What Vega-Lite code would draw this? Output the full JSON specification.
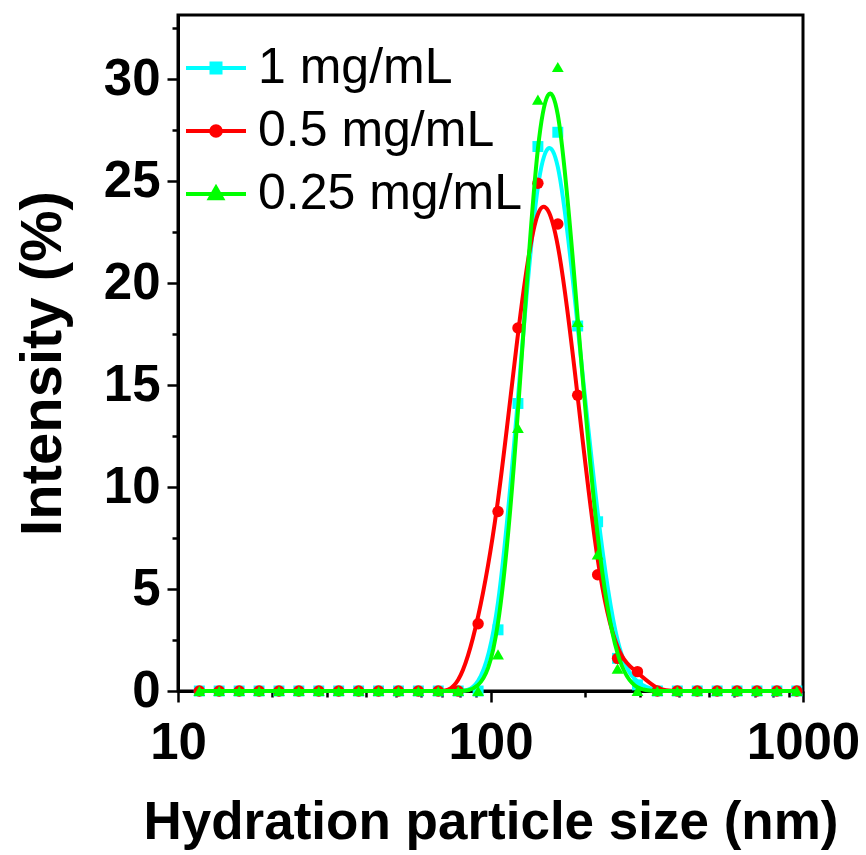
{
  "$schema": "https://vega.github.io/schema/vega-lite/v6.json",
  "width": 625,
  "height": 676,
  "autosize": {"type": "none"},
  "padding": {"left": 178, "top": 15, "right": 63, "bottom": 164},
  "background": "white",
  "config": {
    "view": {"stroke": "black", "strokeWidth": 3},
    "axis": {
      "grid": false,
      "domainColor": "black",
      "domainWidth": 3,
      "tickColor": "black",
      "tickWidth": 2.5,
      "labelFont": "Liberation Sans",
      "labelFontWeight": "bold",
      "labelFontSize": 51,
      "labelColor": "black",
      "titleFont": "Liberation Sans",
      "titleFontWeight": "bold",
      "titleFontSize": 53,
      "titleColor": "black",
      "labelOverlap": false,
      "labelFlush": false,
      "labelBound": false
    }
  },
  "datasets": {
    "dls": [
      {"series": "1 mg/mL", "size": 11.7, "intensity": 0},
      {"series": "1 mg/mL", "size": 13.54, "intensity": 0},
      {"series": "1 mg/mL", "size": 15.69, "intensity": 0},
      {"series": "1 mg/mL", "size": 18.17, "intensity": 0},
      {"series": "1 mg/mL", "size": 21.04, "intensity": 0},
      {"series": "1 mg/mL", "size": 24.36, "intensity": 0},
      {"series": "1 mg/mL", "size": 28.21, "intensity": 0},
      {"series": "1 mg/mL", "size": 32.67, "intensity": 0},
      {"series": "1 mg/mL", "size": 37.84, "intensity": 0},
      {"series": "1 mg/mL", "size": 43.82, "intensity": 0},
      {"series": "1 mg/mL", "size": 50.75, "intensity": 0},
      {"series": "1 mg/mL", "size": 58.77, "intensity": 0},
      {"series": "1 mg/mL", "size": 68.06, "intensity": 0},
      {"series": "1 mg/mL", "size": 78.82, "intensity": 0},
      {"series": "1 mg/mL", "size": 91.28, "intensity": 0},
      {"series": "1 mg/mL", "size": 105.7, "intensity": 3.0},
      {"series": "1 mg/mL", "size": 122.4, "intensity": 14.1},
      {"series": "1 mg/mL", "size": 141.8, "intensity": 26.7},
      {"series": "1 mg/mL", "size": 164.2, "intensity": 27.4},
      {"series": "1 mg/mL", "size": 190.1, "intensity": 17.9},
      {"series": "1 mg/mL", "size": 220.2, "intensity": 8.3},
      {"series": "1 mg/mL", "size": 255, "intensity": 1.6},
      {"series": "1 mg/mL", "size": 295.3, "intensity": 0.3},
      {"series": "1 mg/mL", "size": 342, "intensity": 0},
      {"series": "1 mg/mL", "size": 396.1, "intensity": 0},
      {"series": "1 mg/mL", "size": 458.7, "intensity": 0},
      {"series": "1 mg/mL", "size": 531.2, "intensity": 0},
      {"series": "1 mg/mL", "size": 615.1, "intensity": 0},
      {"series": "1 mg/mL", "size": 712.4, "intensity": 0},
      {"series": "1 mg/mL", "size": 825, "intensity": 0},
      {"series": "1 mg/mL", "size": 955.4, "intensity": 0},
      {"series": "0.5 mg/mL", "size": 11.7, "intensity": 0},
      {"series": "0.5 mg/mL", "size": 13.54, "intensity": 0},
      {"series": "0.5 mg/mL", "size": 15.69, "intensity": 0},
      {"series": "0.5 mg/mL", "size": 18.17, "intensity": 0},
      {"series": "0.5 mg/mL", "size": 21.04, "intensity": 0},
      {"series": "0.5 mg/mL", "size": 24.36, "intensity": 0},
      {"series": "0.5 mg/mL", "size": 28.21, "intensity": 0},
      {"series": "0.5 mg/mL", "size": 32.67, "intensity": 0},
      {"series": "0.5 mg/mL", "size": 37.84, "intensity": 0},
      {"series": "0.5 mg/mL", "size": 43.82, "intensity": 0},
      {"series": "0.5 mg/mL", "size": 50.75, "intensity": 0},
      {"series": "0.5 mg/mL", "size": 58.77, "intensity": 0},
      {"series": "0.5 mg/mL", "size": 68.06, "intensity": 0},
      {"series": "0.5 mg/mL", "size": 78.82, "intensity": 0},
      {"series": "0.5 mg/mL", "size": 91.28, "intensity": 3.3},
      {"series": "0.5 mg/mL", "size": 105.7, "intensity": 8.8},
      {"series": "0.5 mg/mL", "size": 122.4, "intensity": 17.8},
      {"series": "0.5 mg/mL", "size": 141.8, "intensity": 24.9},
      {"series": "0.5 mg/mL", "size": 164.2, "intensity": 22.9},
      {"series": "0.5 mg/mL", "size": 190.1, "intensity": 14.5},
      {"series": "0.5 mg/mL", "size": 220.2, "intensity": 5.7},
      {"series": "0.5 mg/mL", "size": 255, "intensity": 1.6},
      {"series": "0.5 mg/mL", "size": 295.3, "intensity": 0.95},
      {"series": "0.5 mg/mL", "size": 342, "intensity": 0},
      {"series": "0.5 mg/mL", "size": 396.1, "intensity": 0},
      {"series": "0.5 mg/mL", "size": 458.7, "intensity": 0},
      {"series": "0.5 mg/mL", "size": 531.2, "intensity": 0},
      {"series": "0.5 mg/mL", "size": 615.1, "intensity": 0},
      {"series": "0.5 mg/mL", "size": 712.4, "intensity": 0},
      {"series": "0.5 mg/mL", "size": 825, "intensity": 0},
      {"series": "0.5 mg/mL", "size": 955.4, "intensity": 0},
      {"series": "0.25 mg/mL", "size": 11.7, "intensity": 0},
      {"series": "0.25 mg/mL", "size": 13.54, "intensity": 0},
      {"series": "0.25 mg/mL", "size": 15.69, "intensity": 0},
      {"series": "0.25 mg/mL", "size": 18.17, "intensity": 0},
      {"series": "0.25 mg/mL", "size": 21.04, "intensity": 0},
      {"series": "0.25 mg/mL", "size": 24.36, "intensity": 0},
      {"series": "0.25 mg/mL", "size": 28.21, "intensity": 0},
      {"series": "0.25 mg/mL", "size": 32.67, "intensity": 0},
      {"series": "0.25 mg/mL", "size": 37.84, "intensity": 0},
      {"series": "0.25 mg/mL", "size": 43.82, "intensity": 0},
      {"series": "0.25 mg/mL", "size": 50.75, "intensity": 0},
      {"series": "0.25 mg/mL", "size": 58.77, "intensity": 0},
      {"series": "0.25 mg/mL", "size": 68.06, "intensity": 0},
      {"series": "0.25 mg/mL", "size": 78.82, "intensity": 0},
      {"series": "0.25 mg/mL", "size": 91.28, "intensity": 0},
      {"series": "0.25 mg/mL", "size": 105.7, "intensity": 1.8},
      {"series": "0.25 mg/mL", "size": 122.4, "intensity": 12.9},
      {"series": "0.25 mg/mL", "size": 141.8, "intensity": 29.0},
      {"series": "0.25 mg/mL", "size": 164.2, "intensity": 30.6},
      {"series": "0.25 mg/mL", "size": 190.1, "intensity": 18.1},
      {"series": "0.25 mg/mL", "size": 220.2, "intensity": 6.7},
      {"series": "0.25 mg/mL", "size": 255, "intensity": 1.1},
      {"series": "0.25 mg/mL", "size": 295.3, "intensity": 0},
      {"series": "0.25 mg/mL", "size": 342, "intensity": 0},
      {"series": "0.25 mg/mL", "size": 396.1, "intensity": 0},
      {"series": "0.25 mg/mL", "size": 458.7, "intensity": 0},
      {"series": "0.25 mg/mL", "size": 531.2, "intensity": 0},
      {"series": "0.25 mg/mL", "size": 615.1, "intensity": 0},
      {"series": "0.25 mg/mL", "size": 712.4, "intensity": 0},
      {"series": "0.25 mg/mL", "size": 825, "intensity": 0},
      {"series": "0.25 mg/mL", "size": 955.4, "intensity": 0}
    ]
  },
  "data": {"name": "dls"},
  "encoding": {
    "x": {
      "field": "size",
      "type": "quantitative",
      "scale": {"type": "log", "domain": [10, 1000], "nice": false},
      "axis": {
        "title": "Hydration particle size (nm)",
        "values": [10, 20, 30, 40, 50, 60, 70, 80, 90, 100, 200, 300, 400, 500, 600, 700, 800, 900, 1000],
        "labelExpr": "(datum.value == 10 || datum.value == 100 || datum.value == 1000) ? format(datum.value, 'd') : ''",
        "tickSize": {"condition": {"test": "datum.value == 10 || datum.value == 100 || datum.value == 1000", "value": 11}, "value": 6},
        "labelPadding": 16,
        "titlePadding": 28
      }
    },
    "y": {
      "field": "intensity",
      "type": "quantitative",
      "scale": {"domain": [0, 33.15], "nice": false, "zero": true},
      "axis": {
        "title": "Intensity (%)",
        "titleFontSize": 58,
        "titleY": 348,
        "values": [0, 2.5, 5, 7.5, 10, 12.5, 15, 17.5, 20, 22.5, 25, 27.5, 30, 32.5],
        "labelExpr": "datum.value % 5 == 0 ? format(datum.value, 'd') : ''",
        "tickSize": {"condition": {"test": "datum.value % 5 == 0", "value": 11}, "value": 6},
        "labelPadding": 7,
        "titlePadding": 31
      }
    },
    "color": {
      "field": "series",
      "type": "nominal",
      "scale": {"domain": ["1 mg/mL", "0.5 mg/mL", "0.25 mg/mL"], "range": ["#00FFFF", "#FF0000", "#00FF00"]},
      "legend": {
        "title": null,
        "orient": "none",
        "legendX": 6,
        "legendY": 21,
        "symbolSize": 3600,
        "symbolStrokeWidth": 4,
        "symbolOpacity": 1,
        "labelFont": "Liberation Sans",
        "labelFontSize": 50,
        "labelLimit": 0,
        "labelColor": "black",
        "labelOffset": 10,
        "rowPadding": 6,
        "encode": {
          "symbols": {
            "update": {
              "shape": {"signal": "datum.value == '1 mg/mL' ? 'M-1,0H1M-0.15,-0.15H0.15V0.15H-0.15Z' : datum.value == '0.5 mg/mL' ? 'M-1,0H1M0.16,0A0.16,0.16 0 1,1 -0.16,0A0.16,0.16 0 1,1 0.16,0Z' : 'M-1,0H1M0,-0.21L0.2,0.14H-0.2Z'"},
              "fill": {"signal": "datum.value == '1 mg/mL' ? '#00FFFF' : datum.value == '0.5 mg/mL' ? '#FF0000' : '#00FF00'"},
              "stroke": {"signal": "datum.value == '1 mg/mL' ? '#00FFFF' : datum.value == '0.5 mg/mL' ? '#FF0000' : '#00FF00'"},
              "strokeWidth": {"value": 4},
              "opacity": {"value": 1}
            }
          }
        }
      }
    }
  },
  "layer": [
    {"transform": [{"filter": "datum.series == '1 mg/mL'"}], "mark": {"type": "line", "interpolate": "basis", "strokeWidth": 4}},
    {"transform": [{"filter": "datum.series == '1 mg/mL'"}], "mark": {"type": "point", "shape": "square", "filled": true, "size": 120, "opacity": 1}},
    {"transform": [{"filter": "datum.series == '0.5 mg/mL'"}], "mark": {"type": "line", "interpolate": "basis", "strokeWidth": 4}},
    {"transform": [{"filter": "datum.series == '0.5 mg/mL'"}], "mark": {"type": "point", "shape": "circle", "filled": true, "size": 130, "opacity": 1}},
    {"transform": [{"filter": "datum.series == '0.25 mg/mL'"}], "mark": {"type": "line", "interpolate": "basis", "strokeWidth": 4}},
    {"transform": [{"filter": "datum.series == '0.25 mg/mL'"}], "mark": {"type": "point", "shape": "triangle-up", "filled": true, "size": 140, "opacity": 1}}
  ]
}
